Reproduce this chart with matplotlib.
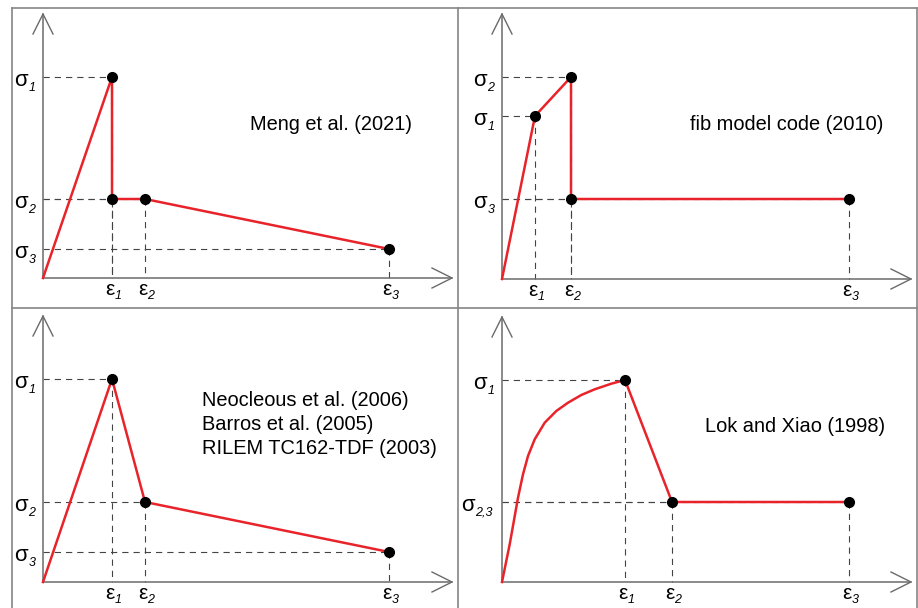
import matplotlib
matplotlib.use("Agg")
import matplotlib.pyplot as plt
from matplotlib.lines import Line2D

plt.rcParams['font.family'] = ['Liberation Sans', 'DejaVu Sans']
plt.rcParams['lines.scale_dashes'] = False

# ---------------- data (schematic strain / stress values) ----------------
meng_eps = [0, 69, 69, 102, 346]
meng_sig = [0, 201, 79, 79, 29]
meng_eps_ticks = [69, 102, 346]
meng_sig_ticks = [201, 79, 29]
meng_eps_labels = ['1', '2', '3']
meng_sig_labels = ['1', '2', '3']

fib_eps = [0, 33, 69, 69, 347]
fib_sig = [0, 163, 202, 80, 80]
fib_eps_ticks = [33, 69, 347]
fib_sig_ticks = [163, 202, 80]
fib_eps_labels = ['1', '2', '3']
fib_sig_labels = ['1', '2', '3']

neo_eps = [0, 69, 102, 346]
neo_sig = [0, 203, 80, 30]
neo_eps_ticks = [69, 102, 346]
neo_sig_ticks = [203, 80, 30]
neo_eps_labels = ['1', '2', '3']
neo_sig_labels = ['1', '2', '3']

lok_eps = [0, 7.7, 16, 21, 26, 32.7, 42.7, 54.3, 66, 79.3, 92.7, 109.3, 123, 170, 347]
lok_sig = [0, 37.7, 84.3, 107.7, 126, 142.7, 159.3, 171, 179.3, 187, 192.7, 198.3, 202, 80, 80]
lok_eps_ticks = [123, 170, 347]
lok_sig_ticks = [202, 80]
lok_eps_labels = ['1', '2', '3']
lok_sig_labels = ['1', '2,3']

meng_pts = [(69, 201), (69, 79), (102, 79), (346, 29)]
fib_pts = [(33, 163), (69, 202), (69, 80), (347, 80)]
neo_pts = [(69, 203), (102, 80), (346, 30)]
lok_pts = [(123, 202), (170, 80), (347, 80)]

# ---------------- figure ----------------
W, H = 918, 608
fig = plt.figure(figsize=(W / 100, H / 100), dpi=100)

RED = '#e8232a'
AXC = '#6b6b6b'
DASHC = '#444444'
BORDER = '#858585'
PX = 0.72  # points per pixel


def sub_label(ax, x, y, main, sub, size, dx, dy, ha, va, sdy):
    t = ax.annotate(main, xy=(x, y), xycoords='data', xytext=(dx, dy),
                    textcoords='offset points', ha=ha, va=va, fontsize=size,
                    annotation_clip=False)
    ax.annotate(sub, xy=(1, 0), xycoords=t, xytext=(0.2, sdy),
                textcoords='offset points', ha='left', va='baseline',
                fontsize=9, fontstyle='italic', annotation_clip=False)


def make_panel(rect, origin, eps, sig, pts, xt, xl, yt, yl, texts, ytip, xtip):
    left, right, top, bottom = rect
    ox, oy = origin
    ax = fig.add_axes([left / W, 1 - bottom / H, (right - left) / W, (bottom - top) / H])
    ax.set_xlim(left - ox, right - ox)
    ax.set_ylim(oy - bottom, oy - top)
    ax.patch.set_alpha(0)
    for s in ['top', 'right']:
        ax.spines[s].set_visible(False)
    ax.spines['left'].set_position(('data', 0))
    ax.spines['bottom'].set_position(('data', 0))
    ax.spines['left'].set_bounds(0, ytip)
    ax.spines['bottom'].set_bounds(0, xtip)
    for s in ['left', 'bottom']:
        ax.spines[s].set_color(AXC)
        ax.spines[s].set_linewidth(1.1)
    ax.set_xticks([])
    ax.set_yticks([])
    # arrow heads
    ax.plot([-10, 0, 10], [ytip - 20, ytip, ytip - 20], color=AXC, lw=1.0, clip_on=False)
    ax.plot([xtip - 20, xtip, xtip - 20], [10, 0, -10], color=AXC, lw=1.0, clip_on=False)
    # labels
    for xv, s in zip(xt, xl):
        sub_label(ax, xv, 0, 'ε', s, 15, -2.5 * PX, -17 * PX, 'center', 'baseline', -0.3)
    for yv, s in zip(yt, yl):
        off = 15 if len(s) == 1 else 27
        sub_label(ax, 0, yv, 'σ', s, 16, -off * PX, -1 * PX, 'right', 'center_baseline', 0.2)
    # guides
    for (x, y) in pts:
        ax.plot([0, x], [y, y], color=DASHC, lw=0.8, dashes=(4.5, 3.6), zorder=1, clip_on=False)
        ax.plot([x, x], [y, 0], color=DASHC, lw=0.8, dashes=(4.5, 3.6), zorder=1, clip_on=False)
    ax.plot(eps, sig, color=RED, lw=1.8, zorder=3, clip_on=False, solid_joinstyle='round')
    ax.plot([p[0] for p in pts], [p[1] for p in pts], 'o', color='black', ms=7, zorder=4, clip_on=False)
    for (tx, ty, s, ha) in texts:
        ax.text(tx, ty, s, ha=ha, va='center', fontsize=14.4)
    return ax


make_panel((12, 458, 7.5, 308), (43, 278), meng_eps, meng_sig, meng_pts,
           meng_eps_ticks, meng_eps_labels, meng_sig_ticks, meng_sig_labels,
           [(288, 153, 'Meng et al. (2021)', 'center')], 264, 409)
make_panel((458, 917, 7.5, 308), (502, 279), fib_eps, fib_sig, fib_pts,
           fib_eps_ticks, fib_eps_labels, fib_sig_ticks, fib_sig_labels,
           [(285, 154, 'fib model code (2010)', 'center')], 265, 409)
make_panel((12, 458, 308, 608), (43, 582), neo_eps, neo_sig, neo_pts,
           neo_eps_ticks, neo_eps_labels, neo_sig_ticks, neo_sig_labels,
           [(159, 182, 'Neocleous et al. (2006)', 'left'),
            (159, 158, 'Barros et al. (2005)', 'left'),
            (159, 134, 'RILEM TC162-TDF (2003)', 'left')], 266, 409)
make_panel((458, 917, 308, 608), (502, 582), lok_eps, lok_sig, lok_pts,
           lok_eps_ticks, lok_eps_labels, lok_sig_ticks, lok_sig_labels,
           [(293, 156, 'Lok and Xiao (1998)', 'center')], 265, 409)


# panel borders
def fline(x0, y0, x1, y1):
    fig.add_artist(Line2D([x0 / W, x1 / W], [1 - y0 / H, 1 - y1 / H], color=BORDER, lw=1.2))


fline(12, 7.5, 917, 7.5)
fline(12, 7.5, 12, 608)
fline(917, 7.5, 917, 608)
fline(458, 7.5, 458, 608)
fline(12, 308, 917, 308)

fig.savefig('out.png', dpi=100)
